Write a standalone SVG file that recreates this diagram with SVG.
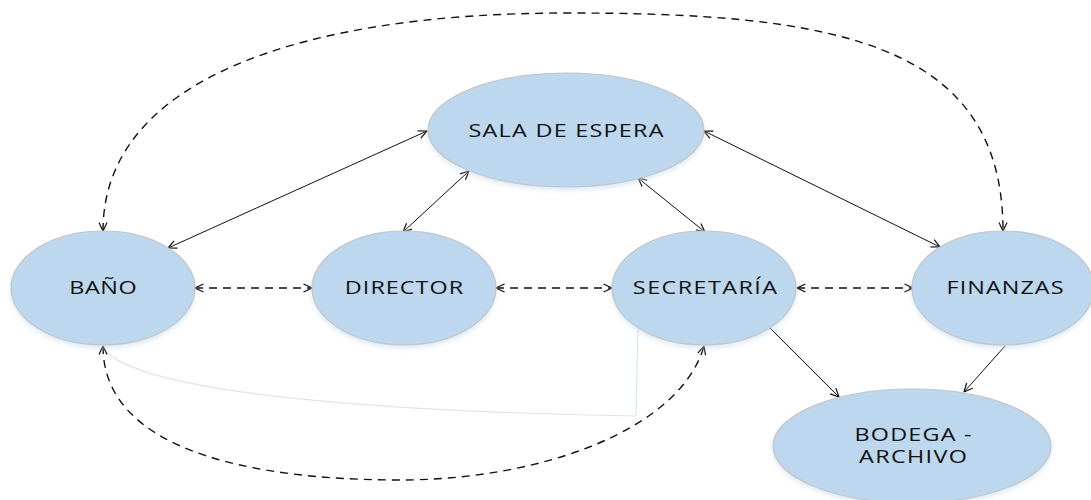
<svg xmlns="http://www.w3.org/2000/svg" width="1091" height="500" viewBox="0 0 1091 500">
<style>
.node{fill:#bdd7ee;stroke:#c4c4c4;stroke-width:1.2}
.lbl{font-family:"Open Sans","Liberation Sans",sans-serif;font-size:18px;fill:#111;text-anchor:middle}
.solid{fill:none;stroke:#111;stroke-width:1}
.dash{fill:none;stroke:#111;stroke-width:1.4;stroke-dasharray:8 6}
.faint{fill:none;stroke:#dbe5f1;stroke-width:1.2}
</style>
<defs>
<marker id="a" viewBox="0 0 10 10" refX="9.5" refY="5" markerWidth="10" markerHeight="10" markerUnits="userSpaceOnUse" orient="auto-start-reverse">
<path d="M1,1 L9.5,5 L1,9" fill="none" stroke="#111" stroke-width="1.2"/>
</marker>
<filter id="sh" x="-10%" y="-10%" width="120%" height="130%">
<feDropShadow dx="0" dy="3" stdDeviation="2" flood-color="#bdd7ee" flood-opacity="0.5"/>
</filter>
</defs>
<g id="connectors">
<path class="faint" d="M107,352 C140,385 300,410 636,416 L638,330"/>
<path class="dash" d="M103,231 C103,80 300,13 567,13 C830,13 1003,40 1003,231" marker-start="url(#a)" marker-end="url(#a)"/>
<path class="dash" d="M103,346 C103,450 250,480 400,480 C540,480 680,430 704,346" marker-start="url(#a)" marker-end="url(#a)"/>
<path class="dash" d="M195,288 L312,288" marker-start="url(#a)" marker-end="url(#a)"/>
<path class="dash" d="M496,288 L612,288" marker-start="url(#a)" marker-end="url(#a)"/>
<path class="dash" d="M797,288 L913,288" marker-start="url(#a)" marker-end="url(#a)"/>
<path class="solid" d="M168,248 L427,131" marker-start="url(#a)" marker-end="url(#a)"/>
<path class="solid" d="M403,232 L469,171" marker-start="url(#a)" marker-end="url(#a)"/>
<path class="solid" d="M638,178 L705,232" marker-start="url(#a)" marker-end="url(#a)"/>
<path class="solid" d="M704,131 L940,247" marker-start="url(#a)" marker-end="url(#a)"/>
<path class="solid" d="M770,328 L839,397" marker-end="url(#a)"/>
<path class="solid" d="M1005,346 L964,392" marker-end="url(#a)"/>
</g>
<g id="sala">
<ellipse class="node" filter="url(#sh)" cx="566" cy="130" rx="138" ry="57"/>
<text class="lbl" transform="translate(566,137) scale(1.3,1)" textLength="150" lengthAdjust="spacing">SALA DE ESPERA</text>
</g>
<g id="bano">
<ellipse class="node" filter="url(#sh)" cx="103" cy="288" rx="92" ry="57"/>
<text class="lbl" transform="translate(103,294) scale(1.3,1)" textLength="52" lengthAdjust="spacing">BAÑO</text>
</g>
<g id="director">
<ellipse class="node" filter="url(#sh)" cx="404" cy="288" rx="92" ry="57"/>
<text class="lbl" transform="translate(404,294) scale(1.3,1)" textLength="91" lengthAdjust="spacing">DIRECTOR</text>
</g>
<g id="secretaria">
<ellipse class="node" filter="url(#sh)" cx="704" cy="288" rx="92" ry="57"/>
<text class="lbl" transform="translate(705,294) scale(1.3,1)" textLength="111" lengthAdjust="spacing">SECRETARÍA</text>
</g>
<g id="finanzas">
<ellipse class="node" filter="url(#sh)" cx="1003" cy="288" rx="91" ry="57"/>
<text class="lbl" transform="translate(1005,294) scale(1.3,1)" textLength="90" lengthAdjust="spacing">FINANZAS</text>
</g>
<g id="bodega">
<ellipse class="node" filter="url(#sh)" cx="912" cy="446" rx="139" ry="57"/>
<text class="lbl" transform="translate(913,441) scale(1.3,1)" textLength="90" lengthAdjust="spacing">BODEGA -</text>
<text class="lbl" transform="translate(913,463) scale(1.3,1)" textLength="83" lengthAdjust="spacing">ARCHIVO</text>
</g>
</svg>
